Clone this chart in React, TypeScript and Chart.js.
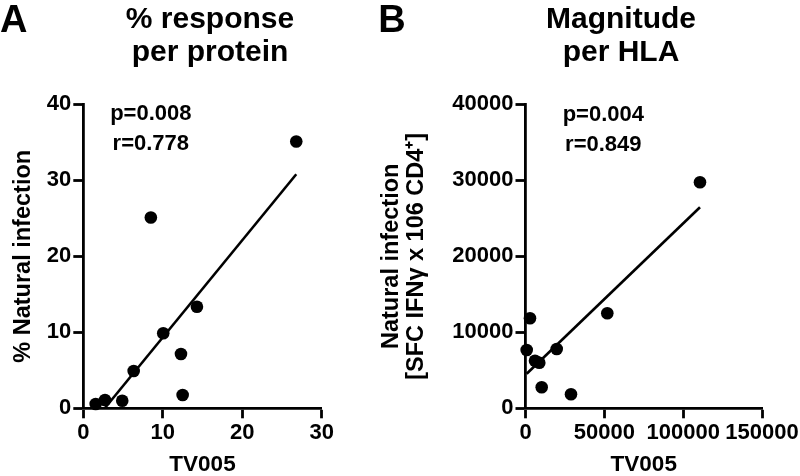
import React, { useEffect, useRef } from 'react';
import { Chart, registerables } from 'chart.js';

Chart.register(...registerables);

const FONT = '"Liberation Sans", Arial, Helvetica, sans-serif';

// ---------- Panel A: % response per protein ----------
const tv005PctA = [1.56, 2.73, 4.9, 6.34, 8.5, 10.06, 12.29, 12.5, 14.3, 26.8];
const naturalPctA = [0.57, 1.09, 1.0, 4.9, 25.1, 9.87, 7.14, 1.75, 13.37, 35.1];
const fitXA = [2.7, 26.8];
const fitYA = [0.0, 30.8];
const xTicksA = [0, 10, 20, 30];
const yTicksA = [0, 10, 20, 30, 40];
const titleA = ['% response', 'per protein'];
const yTitleA = '% Natural infection';
const statsA = ['p=0.008', 'r=0.778'];

// ---------- Panel B: Magnitude per HLA ----------
const tv005MagB = [760, 2850, 6025, 8750, 10270, 19790, 28860, 51880, 110670];
const naturalMagB = [7670, 11840, 6260, 6000, 2760, 7800, 1840, 12500, 29740];
const fitXB = [760, 110670];
const fitYB = [4550, 26450];
const xTicksB = [0, 50000, 100000, 150000];
const yTicksB = [0, 10000, 20000, 30000, 40000];
const titleB = ['Magnitude', 'per HLA'];
const yTitleB = ['Natural infection', '[SFC IFNγ x 106 CD4⁺]'];
const statsB = ['p=0.004', 'r=0.849'];

const xTitle = 'TV005';

function makePanelText(letter: string, letterX: number, stats: string[], dx: number, dy: number) {
  return {
    id: 'panelText',
    afterDraw(chart: any) {
      const { ctx, chartArea } = chart;
      ctx.save();
      ctx.fillStyle = '#000';
      ctx.textBaseline = 'alphabetic';
      ctx.textAlign = 'left';
      ctx.font = `bold 38px ${FONT}`;
      ctx.fillText(letter, letterX, 32);
      ctx.font = `bold 22px ${FONT}`;
      ctx.textAlign = 'center';
      stats.forEach((t, i) => ctx.fillText(t, chartArea.left + dx, chartArea.top + dy + i * 30.5));
      ctx.restore();
    },
  };
}

function buildConfig(p: any) {
  return {
    type: 'scatter',
    data: {
      datasets: [
        {
          data: p.xs.map((x: number, i: number) => ({ x, y: p.ys[i] })),
          backgroundColor: '#000',
          borderColor: '#000',
          pointRadius: 6.3,
          pointBorderWidth: 0,
          clip: false,
        },
        {
          data: p.fx.map((x: number, i: number) => ({ x, y: p.fy[i] })),
          showLine: true,
          borderColor: '#000',
          borderWidth: 2.6,
          pointRadius: 0,
          clip: false,
        },
      ],
    },
    options: {
      responsive: false,
      animation: false,
      events: [],
      layout: { padding: 0 },
      plugins: {
        legend: { display: false },
        tooltip: { enabled: false },
        title: {
          display: true,
          text: p.title,
          color: '#000',
          font: { family: FONT, size: 30, weight: 'bold', lineHeight: 1.1 },
          padding: { top: 3, bottom: 35.3 },
        },
      },
      scales: {
        x: {
          type: 'linear',
          min: p.xTicks[0],
          max: p.xTicks[p.xTicks.length - 1],
          afterBuildTicks: (s: any) => { s.ticks = p.xTicks.map((v: number) => ({ value: v })); },
          afterFit: (s: any) => { s.height = 67.7; s.paddingRight = p.padRight; },
          border: { display: true, color: '#000', width: 2.8 },
          grid: { drawOnChartArea: false, drawTicks: true, tickLength: 10, tickWidth: 2.8, tickColor: '#000', color: '#000' },
          ticks: {
            color: '#000',
            padding: 1,
            maxRotation: 0,
            autoSkip: false,
            font: { family: FONT, size: 22, weight: 'bold', lineHeight: 1.2 },
            callback: (v: any) => String(v),
          },
          title: {
            display: true,
            text: xTitle,
            color: '#000',
            font: { family: FONT, size: 22.5, weight: 'bold', lineHeight: 1 },
            padding: { top: 0, bottom: 0 },
          },
        },
        y: {
          type: 'linear',
          min: p.yTicks[0],
          max: p.yTicks[p.yTicks.length - 1],
          afterBuildTicks: (s: any) => { s.ticks = p.yTicks.map((v: number) => ({ value: v })); },
          afterFit: (s: any) => { s.width = p.yWidth; },
          border: { display: true, color: '#000', width: 2.8 },
          grid: { drawOnChartArea: false, drawTicks: true, tickLength: 10, tickWidth: 2.8, tickColor: '#000', color: '#000' },
          ticks: {
            color: '#000',
            padding: 2,
            autoSkip: false,
            font: { family: FONT, size: 22, weight: 'bold', lineHeight: 1.2 },
            callback: (v: any) => String(v),
          },
          title: {
            display: true,
            text: p.yTitle,
            color: '#000',
            font: { family: FONT, size: 23.5, weight: 'bold', lineHeight: p.yTitleLH },
            padding: { top: p.yTitlePad, bottom: 0 },
          },
        },
      },
    },
    plugins: [makePanelText(p.letter, p.letterX, p.stats, p.statDx, p.statDy)],
  };
}

function Panel(props: { cfg: any; left: number; width: number }) {
  const ref = useRef<HTMLCanvasElement | null>(null);
  useEffect(() => {
    if (!ref.current) return;
    const chart = new Chart(ref.current, buildConfig(props.cfg) as any);
    return () => chart.destroy();
  }, []);
  return (
    <canvas
      ref={ref}
      width={props.width}
      height={476}
      style={{ position: 'absolute', left: props.left, top: 0, width: props.width, height: 476 }}
    />
  );
}

const cfgA = {
  xs: tv005PctA, ys: naturalPctA, fx: fitXA, fy: fitYA,
  xTicks: xTicksA, yTicks: yTicksA, title: titleA, yTitle: yTitleA,
  yTitleLH: 1, yTitlePad: 11.3, yWidth: 83.3, padRight: 98.3,
  letter: 'A', letterX: 0, stats: statsA, statDx: 67.5, statDy: 15.2,
};

const cfgB = {
  xs: tv005MagB, ys: naturalMagB, fx: fitXB, fy: fitYB,
  xTicks: xTicksB, yTicks: yTicksB, title: titleB, yTitle: yTitleB,
  yTitleLH: 25 / 23.5, yTitlePad: 19.5, yWidth: 165.5, padRight: 120,
  letter: 'B', letterX: 18.3, stats: statsB, statDx: 77.8, statDy: 16.2,
};

export default function App() {
  return (
    <div style={{ position: 'fixed', left: 0, top: 0, width: 800, height: 476, overflow: 'hidden', background: '#fff' }}>
      <Panel cfg={cfgA} left={0} width={420} />
      <Panel cfg={cfgB} left={360} width={522} />
    </div>
  );
}
